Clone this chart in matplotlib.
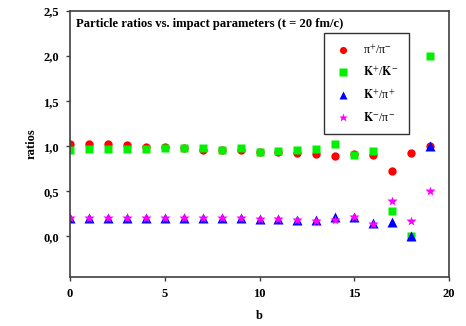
import matplotlib
matplotlib.use("Agg")
import matplotlib.pyplot as plt

b = list(range(20))
pi_ratio = [1.02, 1.02, 1.02, 1.01, 0.99, 0.99, 0.98, 0.96, 0.96, 0.96,
            0.94, 0.94, 0.92, 0.91, 0.89, 0.91, 0.90, 0.73, 0.92, 1.00]
k_ratio = [0.96, 0.97, 0.97, 0.97, 0.97, 0.98, 0.985, 0.985, 0.96, 0.98,
           0.94, 0.95, 0.96, 0.97, 1.03, 0.90, 0.95, 0.285, 0.0, 2.00]
kp_pip = [0.20, 0.20, 0.20, 0.20, 0.20, 0.20, 0.20, 0.20, 0.20, 0.20,
          0.19, 0.19, 0.185, 0.18, 0.21, 0.21, 0.15, 0.16, 0.0, 1.00]
km_pim = [0.20, 0.20, 0.20, 0.20, 0.20, 0.20, 0.20, 0.20, 0.20, 0.20,
          0.19, 0.19, 0.185, 0.17, 0.18, 0.21, 0.14, 0.39, 0.17, 0.50]

series_labels = ["π$^{+}$/π$^{-}$", r"$\mathbf{K}^{+}$/$\mathbf{K}^{-}$",
                 r"$\mathbf{K}^{+}$/π$^{+}$", r"$\mathbf{K}^{-}$/π$^{-}$"]
yticks = [0.0, 0.5, 1.0, 1.5, 2.0, 2.5]
ytick_labels = ["0,0", "0,5", "1,0", "1,5", "2,0", "2,5"]
xticks = [0, 5, 10, 15, 20]

plt.rcParams["font.family"] = ["Liberation Serif", "DejaVu Serif"]
plt.rcParams["mathtext.fontset"] = "stix"

fig = plt.figure(figsize=(4.66, 3.26), dpi=100)
ax = fig.add_axes([70 / 466, 49 / 326, 379 / 466, 266 / 326])

ax.plot(b, pi_ratio, "o", color="#ff0000", ms=6, mec="none", label=series_labels[0])
ax.plot(b, k_ratio, "s", color="#00f000", ms=6, mec="none", label=series_labels[1])
ax.plot(b, kp_pip, "^", color="#0000ff", ms=6.5, mec="none", label=series_labels[2])
ax.plot(b, km_pim, "*", color="#ff00ff", ms=7.5, mec="none", label=series_labels[3])

ax.set_xlim(0, 20)
ax.set_ylim(-0.45, 2.5)
ax.set_xticks(xticks)
ax.set_xticklabels([str(x) for x in xticks], fontweight="bold", fontsize=9)
ax.set_yticks(yticks)
ax.set_yticklabels(ytick_labels, fontweight="bold", fontsize=9)
ax.tick_params(axis="y", direction="out", length=3, width=1, color="#404040", pad=5)
ax.tick_params(axis="x", direction="out", length=3, width=1, color="#404040", pad=5)
for s in ax.spines.values():
    s.set_color("#404040")
    s.set_linewidth(1.2)

ax.set_xlabel("b", fontweight="bold", fontsize=9, labelpad=7)
ax.set_ylabel("ratios", fontweight="bold", fontsize=9, labelpad=4)

ax.text(0.016, 0.975, "Particle ratios vs. impact parameters (t = 20 fm/c)",
        transform=ax.transAxes, fontsize=9.1, fontweight="bold", va="top", ha="left")

leg = ax.legend(loc="upper right", bbox_to_anchor=(0.894, 0.917), frameon=True,
                fancybox=False, fontsize=8.6, handletextpad=1.0, labelspacing=0.75,
                borderpad=0.85, handlelength=1.4, borderaxespad=0, markerscale=0.85)
leg.get_frame().set_edgecolor("black")
leg.get_frame().set_linewidth(1.0)

fig.savefig("out.png", dpi=100)
